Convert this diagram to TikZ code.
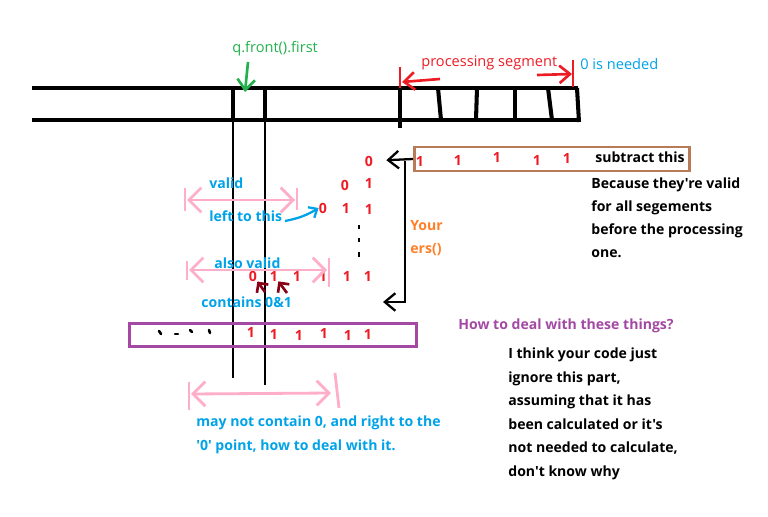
\documentclass[tikz,border=0pt]{standalone}
\usepackage{fontspec}
\setmainfont{Open Sans}[Ligatures=TeXOff]
\usetikzlibrary{arrows.meta}

\definecolor{pred}{HTML}{ED1C24}
\definecolor{pblue}{HTML}{00A2E8}
\definecolor{pgreen}{HTML}{22B14C}
\definecolor{ppink}{HTML}{FFAEC9}
\definecolor{pbrown}{HTML}{B97A57}
\definecolor{ppurple}{HTML}{A349A4}
\definecolor{porange}{HTML}{FF7F27}
\definecolor{pmaroon}{HTML}{880015}

\begin{document}
\begin{tikzpicture}[x=0.02cm,y=-0.02cm,
  >={Straight Barb[length=6pt,width=10pt]},
  every node/.style={font=\fontsize{8}{13}\selectfont\bfseries,inner sep=0pt},
  thin/.style={font=\fontsize{8.3}{10}\selectfont},
  rail/.style={line width=2.3pt},
  num/.style={text=pred},
  note/.style={anchor=west},
  blue note/.style={anchor=west,text=pblue},
  span/.style={draw=ppink,line width=1.6pt,<->,>={Straight Barb[length=7pt,width=14pt]}},
  bar/.style={draw=ppink,line width=1.6pt}]
\useasboundingbox (0,0) rectangle (768,517);

% rails
\draw[rail] (32,88) -- (578,88);
\draw[rail] (32,120) -- (578,120);
\draw[line width=1.3pt] (233,88) -- (233,378);
\draw[line width=1.3pt] (265,88) -- (265,385);
\draw[rail] (233,88) -- (233,120);
\draw[rail] (265,88) -- (265,120);
% processing segment ticks
\draw[rail] (400,88) -- (400,128);
\draw[rail] (438,88) -- (441,120);
\draw[rail] (477,88) -- (476,120);
\draw[rail] (515,88) -- (515,120);
\draw[rail] (548,88) -- (552,120);
\draw[rail] (577,88) -- (579,122);

% top labels
\node[thin,note,text=pgreen] (qf) at (232,49) {q.front().first};
\coordinate (qft) at (248,62);
\coordinate (qfh) at (245,92);
\draw[->,pgreen,line width=1.5pt] (qft) -- (qfh);
\node[thin,note,text=pred] (seg) at (421,63) {processing segment};
\node[thin,note,text=pblue] (need) at (580,64) {0 is needed};
\coordinate (segl) at (400,67);
\coordinate (segr) at (573,60);
\draw[pred,line width=1.5pt] (segl) -- (400,88);
\draw[pred,line width=1.5pt] (segr) -- (573,87);
\coordinate (sla) at (440,79);
\coordinate (slb) at (402,82);
\coordinate (sra) at (537,75);
\coordinate (srb) at (572,74);
\draw[->,pred,line width=1.5pt] (sla) -- (slb);
\draw[->,pred,line width=1.5pt] (sra) -- (srb);

% subtract box
\node[draw=pbrown,line width=1.6pt,minimum width=5.5cm,
  minimum height=0.48cm,anchor=west] (box) at (413,159) {};
\node[num] (b1) at (420,161) {1};
\node[num] (b2) at (458,160) {1};
\node[num] (b3) at (497,157) {1};
\node[num] (b4) at (537,160) {1};
\node[num] (b5) at (567,158) {1};
\node[note] (sub) at (595,157) {subtract this};
\node[note,align=left] (why)
  at (591,218) {Because they're valid\\for all segements\\before the processing\\one.};

% triangle of counts
\node[num] (r1) at (369,161) {0};
\node[num] (r2a) at (345,185) {0};
\node[num] (r2b) at (369,183) {1};
\node[num] (r3a) at (323,208) {0};
\node[num] (r3b) at (346,208) {1};
\node[num] (r3c) at (369,209) {1};
\draw[line width=1.5pt] (359,225) -- (359,229);
\draw[line width=1.5pt] (359,238) -- (359,242);
\draw[line width=1.5pt] (359,252) -- (359,257);
\node[num] (z0) at (253,276) {0};
\node[num] (z1) at (274,276) {1};
\node[num] (z2) at (297,276) {1};
\node[num] (z3) at (323,276) {1};
\node[num] (z4) at (347,276) {1};
\node[num] (z5) at (368,276) {1};

% ers bracket
\coordinate (bt) at (405,161);
\coordinate (bb) at (405,302);
\coordinate (be) at (383,302);
\draw[->,line width=1.3pt,shorten >=0.26cm] (box.west) -- (r1);
\draw[->,line width=1.3pt] (bt) -- (bb) -- (be);
\node[note,text=porange,align=left] (ers) at (410,238) {Your\\ers()};

% valid spans
\node[blue note] (val) at (209,183) {valid};
\draw[bar] (185,188) -- (185,211);
\draw[bar] (297,188) -- (297,210);
\coordinate (v1) at (187,200);
\coordinate (v2) at (295,200);
\draw[span] (v1) -- (v2);
\node[blue note] (left) at (209,216) {left to this};
\coordinate (lt) at (285,221);
\draw[->,pblue,line width=1.3pt,>={Straight Barb[length=4pt,width=7pt]}]
  (lt) to[bend right=10] (r3a.west);
\node[blue note] (also) at (214,263) {also valid};
\draw[bar] (187,261) -- (187,280);
\draw[bar] (329,258) -- (329,287);
\coordinate (a1) at (189,270);
\coordinate (a2) at (327,270);
\draw[span] (a1) -- (a2);
\coordinate (m1) at (265,292);
\coordinate (m2) at (287,293);
\draw[->,pmaroon,line width=1.5pt,>={Straight Barb[length=4pt,width=8pt]}] (m1) -- (z0.south east);
\draw[->,pmaroon,line width=1.5pt,>={Straight Barb[length=4pt,width=8pt]}] (m2) -- (z1.south east);
\node[blue note] (cont) at (201,302) {contains 0\&1};

% purple row
\node[draw=ppurple,line width=1.6pt,minimum width=5.74cm,minimum height=0.46cm,
  anchor=north west] (row) at (128,322) {};
\draw[line width=1.5pt,line cap=round] (159,331) -- (161,334);
\draw[line width=1.5pt,line cap=round] (175,334) -- (178,334);
\draw[line width=1.5pt,line cap=round] (190,330) -- (192,332);
\draw[line width=1.5pt,line cap=round] (209,330) -- (210,333);
\node[num] (p0) at (251,332) {1};
\node[num] (p1) at (274,334) {1};
\node[num] (p2) at (299,335) {1};
\node[num] (p3) at (324,333) {1};
\node[num] (p4) at (348,335) {1};
\node[num] (p5) at (368,334) {1};

% bottom span
\draw[bar] (189,382) -- (189,410);
\draw[bar] (335,373) -- (339,408);
\coordinate (c1) at (191,394);
\coordinate (c2) at (331,393);
\draw[span] (c1) -- (c2);
\node[blue note,align=left,font=\fontsize{8}{13.6}\selectfont\bfseries] (may)
  at (196,435) {may not contain 0, and right to the\\'0' point, how to deal with it.};

% right notes
\node[note,text=ppurple] (how) at (458,326) {How to deal with these things?};
\node[note,align=left,font=\fontsize{8}{13.4}\selectfont\bfseries] (think)
  at (508,414) {I think your code just\\ignore this part,\\assuming that it has\\been calculated or it's\\not needed to calculate,\\don't know why};
\end{tikzpicture}
\end{document}
